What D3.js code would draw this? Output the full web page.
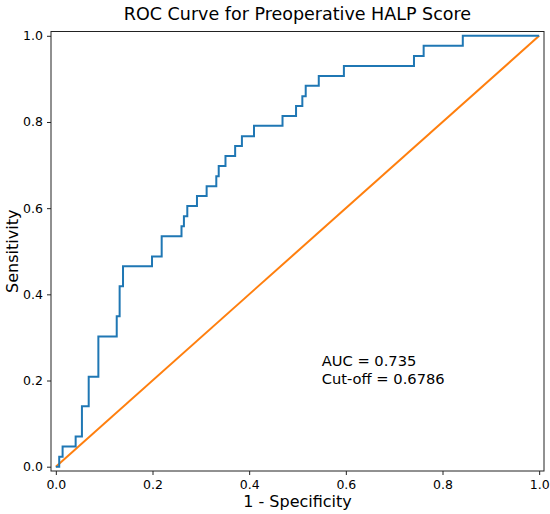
<!DOCTYPE html>
<html>
<head>
<meta charset="utf-8">
<script src="https://cdn.jsdelivr.net/npm/d3@7"></script>
<style>
  body { margin: 0; background: #fff; }
  svg text { font-family: "DejaVu Sans", sans-serif; fill: #000; }
</style>
</head>
<body>
<svg id="chart" width="550" height="514"></svg>
<script>
// step points of the ROC curve: at each fpr the sensitivity jumps to tpr
var fpr = [0, 0.007, 0.014, 0.041, 0.054, 0.068, 0.088, 0.126, 0.132, 0.139,
           0.199, 0.219, 0.260, 0.265, 0.272, 0.292, 0.312, 0.332, 0.337, 0.351,
           0.371, 0.385, 0.410, 0.469, 0.497, 0.510, 0.517, 0.544, 0.596, 0.741,
           0.761, 0.842, 1.0];
var tpr = [0, 0.023, 0.047, 0.070, 0.140, 0.209, 0.302, 0.349, 0.419, 0.465,
           0.488, 0.535, 0.558, 0.581, 0.605, 0.628, 0.651, 0.674, 0.698, 0.721,
           0.744, 0.767, 0.791, 0.814, 0.837, 0.860, 0.884, 0.907, 0.930, 0.953,
           0.977, 1.0, 1.0];
var chance = [0, 1];
var ticks = [0, 0.2, 0.4, 0.6, 0.8, 1.0];
var notes = ["AUC = 0.735", "Cut-off = 0.6786"];

var svg = d3.select("#chart");
var plotLeft = 51, plotRight = 544, plotTop = 31.5, plotBottom = 471;

var x = d3.scaleLinear().domain([-0.01, 1.01]).range([plotLeft, plotRight]);
var y = d3.scaleLinear().domain([-0.01, 1.01]).range([plotBottom, plotTop]);

// diagonal
svg.append("path")
  .datum(chance)
  .attr("fill", "none")
  .attr("stroke", "#ff7f0e")
  .attr("stroke-width", 2)
  .attr("d", d3.line().x(function(d){ return x(d); }).y(function(d){ return y(d); }));

// roc curve
svg.append("path")
  .datum(d3.range(fpr.length))
  .attr("fill", "none")
  .attr("stroke", "#1f77b4")
  .attr("stroke-width", 2)
  .attr("d", d3.line()
    .x(function(i){ return x(fpr[i]); })
    .y(function(i){ return y(tpr[i]); })
    .curve(d3.curveStepAfter));

// frame
svg.append("rect")
  .attr("x", plotLeft).attr("y", plotTop)
  .attr("width", plotRight - plotLeft).attr("height", plotBottom - plotTop)
  .attr("fill", "none").attr("stroke", "#222").attr("stroke-width", 1);

var xAxis = svg.append("g")
  .attr("transform", "translate(0," + plotBottom + ")")
  .call(d3.axisBottom(x).tickValues(ticks).tickFormat(d3.format(".1f")).tickSizeOuter(0).tickSize(4).tickPadding(5));
var yAxis = svg.append("g")
  .attr("transform", "translate(" + plotLeft + ",0)")
  .call(d3.axisLeft(y).tickValues(ticks).tickFormat(d3.format(".1f")).tickSizeOuter(0).tickSize(4).tickPadding(4));

[xAxis, yAxis].forEach(function(a){
  a.select(".domain").remove();
  a.selectAll("line").attr("stroke", "#222");
  a.selectAll("text").attr("font-size", 12.5).attr("font-family", "DejaVu Sans").attr("fill", "#000");
});

svg.append("text")
  .attr("x", (plotLeft + plotRight) / 2).attr("y", 19.5)
  .attr("text-anchor", "middle").attr("font-size", 17.5)
  .text("ROC Curve for Preoperative HALP Score");

svg.append("text")
  .attr("x", (plotLeft + plotRight) / 2).attr("y", 507)
  .attr("text-anchor", "middle").attr("font-size", 16)
  .text("1 - Specificity");

svg.append("text")
  .attr("transform", "translate(18," + (plotTop + plotBottom) / 2 + ") rotate(-90)")
  .attr("text-anchor", "middle").attr("font-size", 16)
  .text("Sensitivity");

svg.selectAll(".note")
  .data(notes)
  .enter().append("text")
  .attr("class", "note")
  .attr("x", x(0.55))
  .attr("y", function(d, i){ return y(0.2) - 14.5 + i * 18; })
  .attr("font-size", 14.7)
  .text(function(d){ return d; });
</script>
</body>
</html>
